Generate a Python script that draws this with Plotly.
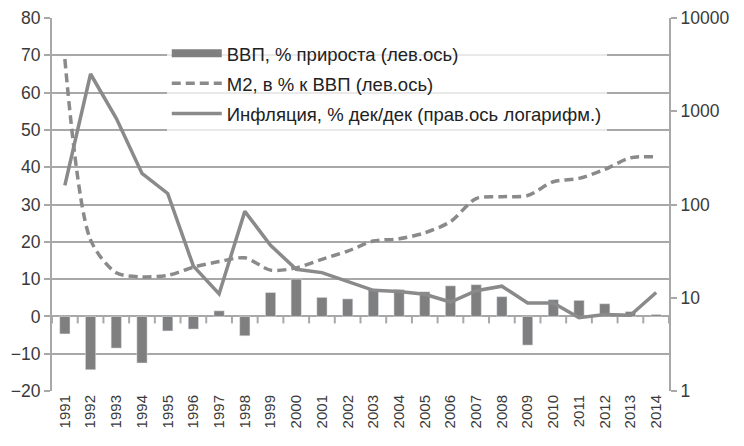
import plotly.graph_objects as go

years = [str(y) for y in range(1991, 2015)]
gdp_growth = [-4.7, -14.3, -8.5, -12.5, -3.9, -3.4, 1.5, -5.2, 6.4, 10.0, 5.1, 4.7,
              7.3, 7.2, 6.6, 8.2, 8.5, 5.3, -7.7, 4.5, 4.3, 3.4, 1.3, 0.5]
m2_gdp = [69.0, 20.5, 11.7, 10.6, 11.0, 13.2, 14.7, 15.7, 12.4, 13.0, 15.3, 17.5,
          20.2, 20.8, 22.4, 25.4, 31.6, 32.1, 32.4, 36.1, 37.0, 39.4, 42.5, 42.8]
inflation = [160.4, 2508.8, 840.0, 215.1, 131.3, 21.8, 11.0, 84.4, 36.5, 20.2, 18.6, 15.1,
             12.0, 11.7, 10.9, 9.0, 11.9, 13.3, 8.8, 8.8, 6.1, 6.6, 6.5, 11.4]
left_ticks = [-20, -10, 0, 10, 20, 30, 40, 50, 60, 70, 80]
right_ticks = [1, 10, 100, 1000, 10000]

names = ["ВВП, % прироста (лев.ось)",
         "М2, в % к ВВП (лев.ось)",
         "Инфляция, % дек/дек (прав.ось логарифм.)"]

BAR = "#7f7f7f"
GRAY = "#8a8a8a"
GRID = "#a8a8a8"
TXT = "#3a3a3a"
FONT = "Liberation Sans"

fig = go.Figure()
fig.add_trace(go.Bar(x=years, y=gdp_growth, name=names[0], marker_color=BAR,
                     yaxis="y", width=0.4, showlegend=False))
# legend entry for bars drawn as a wide bar-like symbol
fig.add_trace(go.Scatter(x=[None], y=[None], name=names[0], mode="lines",
                         line=dict(color=BAR, width=8), legendgroup="g1", yaxis="y"))
fig.add_trace(go.Scatter(x=years, y=m2_gdp, name=names[1], mode="lines", legendgroup="g2",
                         line=dict(color=GRAY, width=3.5, dash="9px,5px", shape="spline", smoothing=0.8),
                         yaxis="y"))
fig.add_trace(go.Scatter(x=years, y=inflation, name=names[2], mode="lines", legendgroup="g3",
                         line=dict(color=GRAY, width=3.5), yaxis="y2"))

fig.update_layout(
    width=744, height=446,
    margin=dict(l=52, r=75, t=18, b=55),
    paper_bgcolor="white", plot_bgcolor="white",
    font=dict(family=FONT, color=TXT, size=15),
    showlegend=True,
    legend=dict(x=0.186, y=0.955, xanchor="left", yanchor="top",
                bgcolor="rgba(255,255,255,0.75)", font=dict(size=18.5, family=FONT, color="#222"),
                itemwidth=50, tracegroupgap=3, traceorder="grouped"),
    bargap=0.6,
    xaxis=dict(type="category", categoryorder="array", categoryarray=years,
               range=[-0.5, 23.5], tickangle=-90, showgrid=False, showline=False,
               ticks="", tickfont=dict(size=15, family=FONT, color=TXT), zeroline=False,
               automargin=False),
    yaxis=dict(range=[-20, 80], tickvals=left_ticks, showgrid=True, gridcolor=GRID, gridwidth=2,
               zeroline=False, showline=True, linecolor=GRID, linewidth=2,
               ticks="outside", ticklen=6, tickcolor=GRID, tickwidth=2, automargin=False,
               tickfont=dict(size=17.5, family=FONT, color=TXT)),
    yaxis2=dict(type="log", range=[0, 4], tickvals=right_ticks, ticktext=[str(v) for v in right_ticks],
                overlaying="y", side="right", showgrid=False, zeroline=False,
                showline=True, linecolor=GRID, linewidth=2, ticks="outside", ticklen=6,
                tickwidth=2, tickcolor=GRID, automargin=False,
                tickfont=dict(size=17.5, family=FONT, color=TXT)),
)
# category boundary tick marks hanging below the zero line
for i in range(len(years) + 1):
    fig.add_shape(type="line", xref="x", yref="y", x0=i - 0.5, x1=i - 0.5,
                  ysizemode="pixel", yanchor=0, y0=0, y1=-7,
                  line=dict(color=GRID, width=2), layer="below")

fig.write_html("out.html", config={"displayModeBar": False},
               post_script="document.body.style.margin='0';")
